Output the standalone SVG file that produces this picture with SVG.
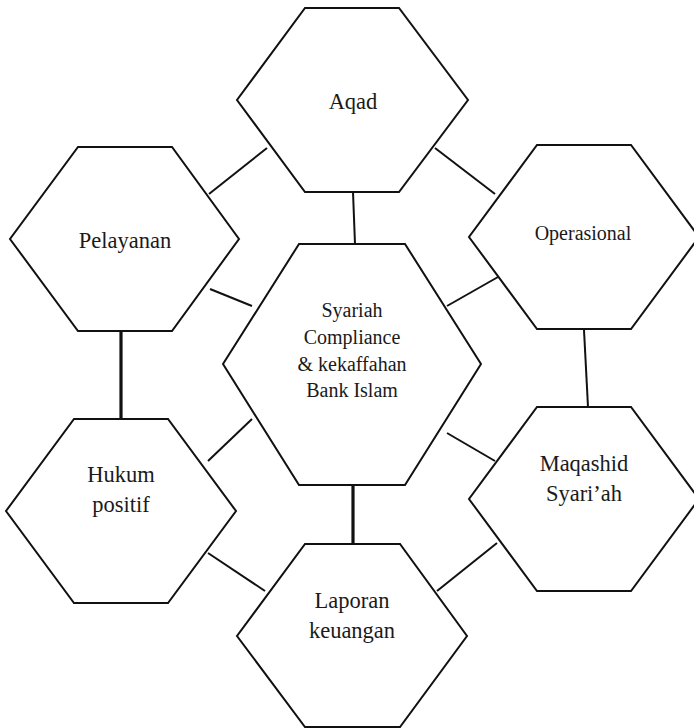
<svg xmlns="http://www.w3.org/2000/svg" width="694" height="728" viewBox="0 0 694 728">
  <style>
    .hex { fill: #ffffff; stroke: #111111; stroke-width: 2; stroke-linejoin: miter; }
    .link { stroke: #111111; stroke-width: 2; fill: none; }
    .link.bold { stroke-width: 3.2; }
    .label { font-family: "Liberation Serif", Tinos, "Times New Roman", "DejaVu Serif", serif; font-size: 22.5px; fill: #1a1a1a; text-anchor: middle; }
    .small { font-size: 20px; }
  </style>
  <rect x="0" y="0" width="694" height="728" fill="#ffffff"/>

  <!-- connectors between the hexagons -->
  <g id="connectors">
    <line class="link" x1="209" y1="194" x2="267" y2="148"/>
    <line class="link" x1="435" y1="148" x2="495" y2="194"/>
    <line class="link" x1="353" y1="192" x2="355" y2="244"/>
    <line class="link" x1="210" y1="289" x2="252" y2="306"/>
    <line class="link" x1="447" y1="306" x2="498" y2="277"/>
    <line class="link" x1="584" y1="330" x2="588" y2="407"/>
    <line class="link bold" x1="121" y1="331" x2="121" y2="419"/>
    <line class="link" x1="208" y1="461" x2="252" y2="419"/>
    <line class="link" x1="447" y1="433" x2="495" y2="461"/>
    <line class="link bold" x1="353" y1="485" x2="353" y2="544"/>
    <line class="link" x1="208" y1="553" x2="265" y2="591"/>
    <line class="link" x1="437" y1="591" x2="497" y2="543"/>
  </g>

  <g id="aqad">
    <polygon class="hex" points="305,8 399,8 468,100 399,192 305,192 237,100"/>
    <text class="label" x="353" y="109" font-family="Liberation Serif, serif">Aqad</text>
  </g>

  <g id="pelayanan">
    <polygon class="hex" points="78,147 172,147 239,239 172,331 78,331 10,239"/>
    <text class="label" x="125" y="248">Pelayanan</text>
  </g>

  <g id="operasional">
    <polygon class="hex" points="537,145 631,145 699,237 631,329 537,329 469,237"/>
    <text class="label small" x="583" y="240">Operasional</text>
  </g>

  <g id="syariah-compliance">
    <polygon class="hex" points="299,244 405,244 481,364 405,485 299,485 223,364"/>
    <text class="label small" x="352" y="317">Syariah</text>
    <text class="label small" x="352" y="344">Compliance</text>
    <text class="label small" x="352" y="371">&amp; kekaffahan</text>
    <text class="label small" x="352" y="397">Bank Islam</text>
  </g>

  <g id="hukum-positif">
    <polygon class="hex" points="74,419 168,419 236,511 168,603 74,603 6,511"/>
    <text class="label" x="121" y="482">Hukum</text>
    <text class="label" x="121" y="512">positif</text>
  </g>

  <g id="maqashid-syariah">
    <polygon class="hex" points="537,407 631,407 699,499 631,591 537,591 469,499"/>
    <text class="label" x="584" y="471">Maqashid</text>
    <text class="label" x="584" y="501">Syari’ah</text>
  </g>

  <g id="laporan-keuangan">
    <polygon class="hex" points="305,544 400,544 467,636 400,727 305,727 237,636"/>
    <text class="label" x="352" y="608">Laporan</text>
    <text class="label" x="352" y="638">keuangan</text>
  </g>
</svg>
